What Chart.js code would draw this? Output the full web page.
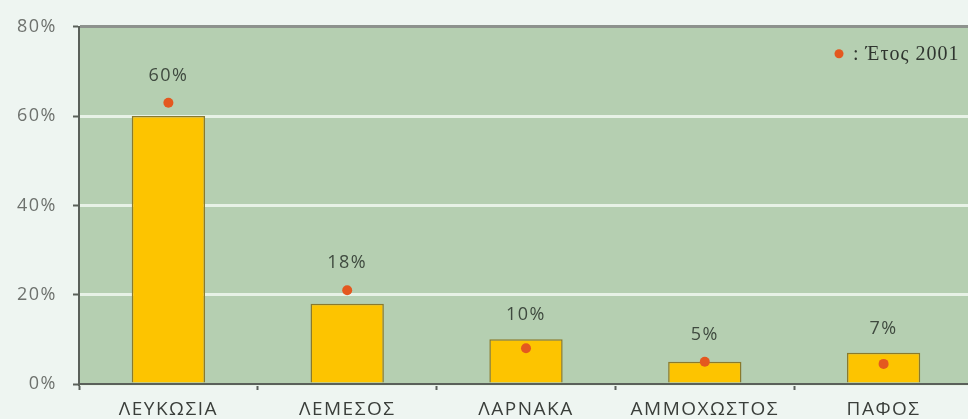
<!DOCTYPE html>
<html lang="el">
<head>
    <meta charset="UTF-8">
    <title>Κατανομή ανά επαρχία</title>
    <script src="https://cdn.jsdelivr.net/npm/chart.js"></script>
    <style>
        html, body { margin: 0; padding: 0; background: #eef5f1; overflow: hidden; }
        .container { width: 968px; height: 419px; overflow: hidden; }
    </style>
</head>
<body>
    <div class="container">
        <!-- el área del gráfico sigue más allá del borde derecho, como en el original -->
        <canvas id="myChart" width="978" height="419"></canvas>
    </div>

    <script>
        // Datos
        const categorias = ['ΛΕΥΚΩΣΙΑ', 'ΛΕΜΕΣΟΣ', 'ΛΑΡΝΑΚΑ', 'ΑΜΜΟΧΩΣΤΟΣ', 'ΠΑΦΟΣ'];
        const valores = [60, 18, 10, 5, 7];
        const valores2001 = [63, 21, 8, 5, 4.5];
        const etiquetasY = [0, 20, 40, 60, 80];
        const leyenda2001 = ': Έτος 2001';

        const FONT = "'Open Sans', 'Noto Sans', sans-serif";

        // fondo del área del gráfico (y texto algo espaciado)
        const fondo = {
            id: 'fondo',
            beforeDraw(chart) {
                const { ctx, chartArea: a } = chart;
                ctx.letterSpacing = '1.5px';
                ctx.save();
                ctx.fillStyle = '#b5cfb1';
                ctx.fillRect(a.left, a.top, a.right - a.left, a.bottom - a.top);
                ctx.restore();
            }
        };

        // porcentajes encima de cada barra + leyenda
        const etiquetas = {
            id: 'etiquetas',
            afterDatasetsDraw(chart) {
                const { ctx, scales, chartArea: a } = chart;
                ctx.save();
                ctx.font = '18px ' + FONT;
                ctx.fillStyle = '#3f4a3f';
                ctx.textAlign = 'center';
                ctx.textBaseline = 'middle';
                categorias.forEach((c, i) => {
                    const x = scales.x.getPixelForValue(i);
                    const top = Math.min(scales.y.getPixelForValue(valores[i]), scales.y.getPixelForValue(valores2001[i]) - 3);
                    ctx.fillText(valores[i] + '%', x, top - 24);
                });
                // leyenda
                const lx = 839, ly = a.top + 27;
                ctx.fillStyle = '#e4581f';
                ctx.beginPath();
                ctx.arc(lx, ly, 4.5, 0, Math.PI * 2);
                ctx.fill();
                ctx.fillStyle = '#2f352f';
                ctx.textAlign = 'left';
                ctx.letterSpacing = '1px';
                ctx.font = "20px 'Liberation Serif', 'DejaVu Serif', serif";
                ctx.fillText(leyenda2001, lx + 14, ly + 1);
                ctx.restore();
            }
        };

        const config = {
            type: 'bar',
            data: {
                labels: categorias,
                datasets: [{
                    type: 'line',
                    label: 'Έτος 2001',
                    data: valores2001,
                    showLine: false,
                    pointRadius: 5,
                    pointHoverRadius: 5,
                    pointBackgroundColor: '#e4581f',
                    pointBorderWidth: 0,
                    order: 0
                }, {
                    label: 'Ποσοστό',
                    data: valores,
                    backgroundColor: '#fdc400',
                    borderColor: '#8a7a2c',
                    borderWidth: 1.5,
                    barPercentage: 0.82,
                    categoryPercentage: 0.5,
                    order: 1
                }]
            },
            options: {
                responsive: false,
                animation: false,
                layout: { padding: { top: 21, right: 0, left: 0, bottom: 0 } },
                plugins: {
                    legend: { display: false },
                    tooltip: { enabled: false }
                },
                scales: {
                    x: {
                        afterFit: s => { s.height = 35; },
                        border: { color: '#5a605a', width: 2 },
                        grid: {
                            offset: true,
                            drawOnChartArea: false,
                            tickLength: 6,
                            tickColor: '#5a605a',
                            tickWidth: 2
                        },
                        ticks: {
                            color: '#3a3e3a',
                            font: { family: FONT, size: 19 },
                            padding: 8
                        }
                    },
                    y: {
                        min: 0,
                        max: 80,
                        afterFit: s => { s.width = 79; },
                        afterBuildTicks: s => { s.ticks = etiquetasY.map(v => ({ value: v })); },
                        border: { color: '#5a605a', width: 2 },
                        grid: {
                            color: ctx => ctx.tick && ctx.tick.value === 80 ? '#8d928d' : '#e7f2e6',
                            lineWidth: 3,
                            tickLength: 6,
                            tickColor: '#5a605a',
                            tickWidth: 2
                        },
                        ticks: {
                            color: '#6e726e',
                            font: { family: FONT, size: 18 },
                            padding: 16,
                            callback: v => v + '%'
                        }
                    }
                }
            },
            plugins: [fondo, etiquetas]
        };

        var myChart = new Chart(document.getElementById('myChart'), config);
    </script>
</body>
</html>
